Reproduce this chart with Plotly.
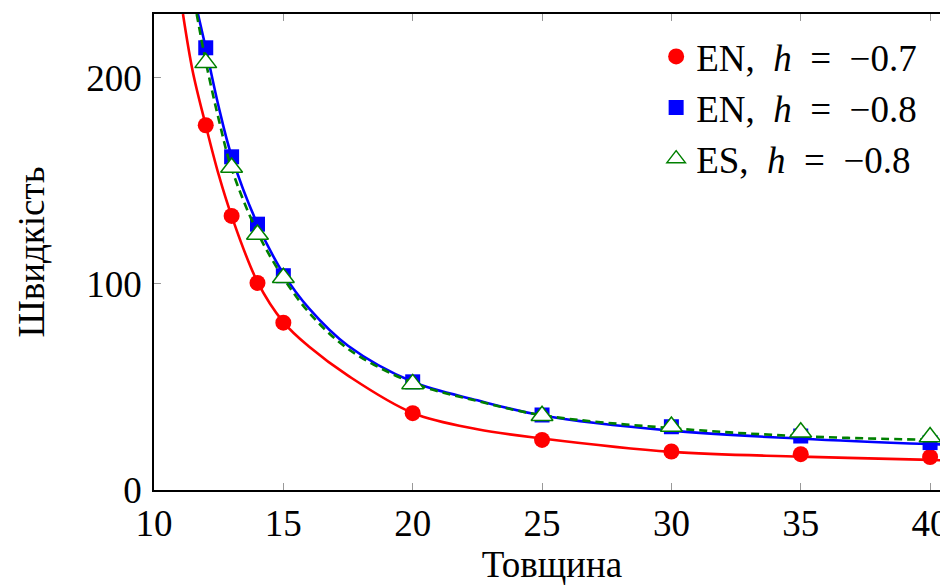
import plotly.graph_objects as go

# Measured points
x_pts = [12, 13, 14, 15, 20, 25, 30, 35, 40]
en07_pts = [177, 133, 100.5, 81.2, 37.3, 24.3, 18.7, 17.4, 16.0]
en08_pts = [214.6, 161.7, 129, 104, 52.5, 36.4, 30.7, 26.2, 23.0]
es08_pts = [207.3, 156.5, 124, 103, 51.5, 36.0, 30.8, 28.0, 25.7]

# Fitted curves
en07_cx = [11.12, 11.5, 12, 12.5, 13, 14, 15, 16, 17.5, 20, 22.5, 25, 30, 35, 40, 40.8]
en07_cy = [231, 203, 177, 153, 133, 101, 81.5, 69.5, 55.5, 37.4, 29.5, 25.0, 18.5, 16.2, 14.6, 14.3]
en08_cx = [11.7, 12, 12.5, 13, 14, 15, 16, 17.5, 20, 22.5, 25, 30, 35, 40, 40.8]
en08_cy = [231, 214.6, 186, 162, 129, 105, 88, 70, 52.5, 43.5, 36.2, 28.8, 24.9, 22.3, 22.0]
es08_cx = [11.65, 12, 12.5, 13, 14, 15, 16, 17.5, 20, 22.5, 25, 30, 35, 40, 40.8]
es08_cy = [231, 208, 180, 156, 125, 103, 86, 68.5, 52.0, 43.2, 36.3, 30.0, 26.1, 24.3, 24.0]

SP = "\u2002"
names = [f"EN,{SP}<i>h</i>{SP}={SP}−0.7", f"EN,{SP}<i>h</i>{SP}={SP}−0.8", f"ES,{SP}<i>h</i>{SP}={SP}−0.8"]
x_ticks = [10, 15, 20, 25, 30, 35, 40]
y_ticks = [0, 100, 200]

FONT = "'Liberation Serif', 'Times New Roman', serif"
RED, BLUE, GREEN = "#ff0000", "#0000ff", "#008000"

fig = go.Figure()
fig.add_trace(go.Scatter(x=en07_cx, y=en07_cy, mode="lines", line=dict(color=RED, width=2.6, shape="spline"),
                         showlegend=False, hoverinfo="skip"))
fig.add_trace(go.Scatter(x=x_pts, y=en07_pts, mode="markers", name=names[0],
                         marker=dict(symbol="circle", size=16, color=RED)))
fig.add_trace(go.Scatter(x=en08_cx, y=en08_cy, mode="lines", line=dict(color=BLUE, width=2.6, shape="spline"),
                         showlegend=False, hoverinfo="skip"))
fig.add_trace(go.Scatter(x=x_pts, y=en08_pts, mode="markers", name=names[1],
                         marker=dict(symbol="square", size=15, color=BLUE)))
fig.add_trace(go.Scatter(x=es08_cx, y=es08_cy, mode="lines",
                         line=dict(color=GREEN, width=2.6, shape="spline", dash="8px,5px"),
                         showlegend=False, hoverinfo="skip"))
fig.add_trace(go.Scatter(x=x_pts, y=es08_pts, mode="markers", name=names[2],
                         marker=dict(symbol="triangle-up", size=19, color="white",
                                     line=dict(color=GREEN, width=1.5))))

fig.update_layout(
    width=948, height=586,
    margin=dict(l=146, r=6, t=6, b=104),
    paper_bgcolor="white", plot_bgcolor="white",
    font=dict(family=FONT, size=37, color="black"),
    showlegend=True,
    legend=dict(x=0.965, y=0.975, xanchor="right", yanchor="top",
                bgcolor="rgba(255,255,255,0)", borderwidth=0,
                font=dict(family=FONT, size=37), itemwidth=30, tracegroupgap=0),
    xaxis=dict(range=[10, 40.77], tickvals=x_ticks, ticks="inside", ticklen=7, tickcolor="#999999",
               showline=True, linecolor="black", linewidth=1.5, mirror="ticks",
               showgrid=False, zeroline=False, automargin=False,
               tickfont=dict(family=FONT, size=37),
               title=dict(text="Товщина", font=dict(family=FONT, size=37), standoff=7)),
    yaxis=dict(range=[0, 231], tickvals=y_ticks, ticks="inside", ticklen=7, tickcolor="#999999",
               showline=True, linecolor="black", linewidth=1.5, mirror="ticks",
               showgrid=False, zeroline=False, ticklabelstandoff=3, automargin=False,
               tickfont=dict(family=FONT, size=37),
               title=dict(text="Швидкість", font=dict(family=FONT, size=37), standoff=30)),
)

fig.write_html("out.html")
